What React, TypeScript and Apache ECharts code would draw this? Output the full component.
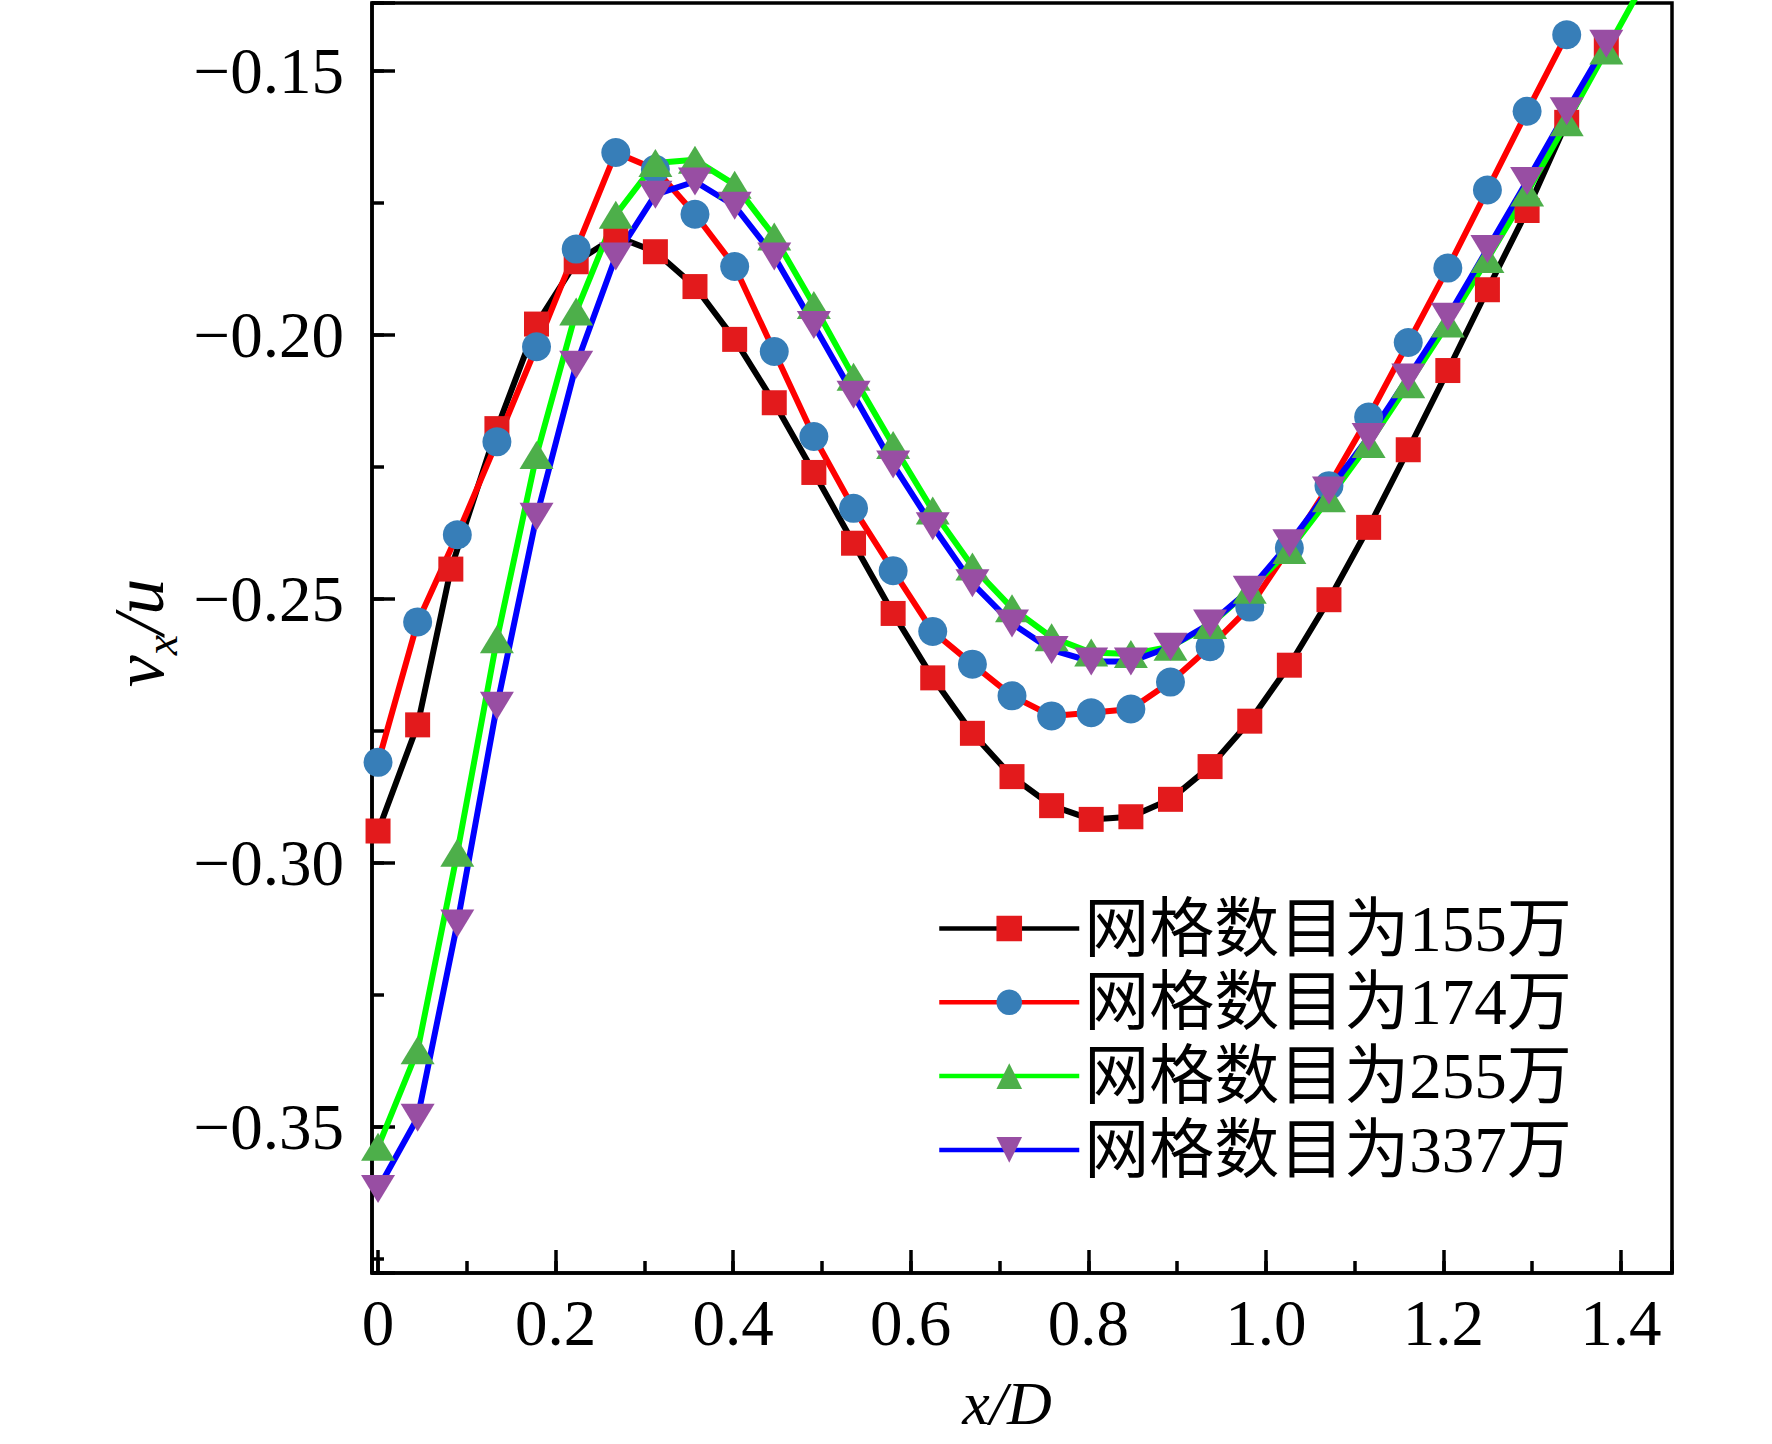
import React, { useEffect, useRef } from "react";
import * as echarts from "echarts";

// ---------------- data ----------------
const xValues = [
  0, 0.0446, 0.0893, 0.1339, 0.1785, 0.2232, 0.2678, 0.3124, 0.357, 0.4017,
  0.4463, 0.4909, 0.5356, 0.5802, 0.6248, 0.6695, 0.7141, 0.7587, 0.8033, 0.848,
  0.8926, 0.9372, 0.9819, 1.0265, 1.0711, 1.1158, 1.1604, 1.205, 1.2496, 1.2943,
  1.3389, 1.3835, 1.4282,
];
const xValues155 = [
  0, 0.0446, 0.082, 0.1339, 0.1785, 0.2232, 0.2678, 0.3124, 0.357, 0.4017,
  0.4463, 0.4909, 0.5356, 0.5802, 0.6248, 0.6695, 0.7141, 0.7587, 0.8033, 0.848,
  0.8926, 0.9372, 0.9819, 1.0265, 1.0711, 1.1158, 1.1604, 1.205, 1.2496, 1.2943,
  1.3389, 1.3835,
];
const grid155 = [
  -0.294, -0.2739, -0.2444, -0.2178, -0.198, -0.1862, -0.1814, -0.1843, -0.1909, -0.2009,
  -0.2129, -0.2261, -0.2395, -0.2528, -0.265, -0.2755, -0.2837, -0.2892, -0.2918, -0.2913,
  -0.288, -0.2818, -0.2732, -0.2626, -0.2502, -0.2365, -0.2218, -0.2068, -0.1915, -0.1765,
  -0.1598, -0.1453,
];
const grid174 = [
  -0.281, -0.2544, -0.2379, -0.2203, -0.2023, -0.1838, -0.1655, -0.1687, -0.1772, -0.1871,
  -0.2032, -0.2193, -0.2329, -0.2447, -0.2562, -0.2624, -0.2684, -0.2722, -0.2716, -0.2709,
  -0.2658, -0.2591, -0.2516, -0.2404, -0.2286, -0.2156, -0.2015, -0.1874, -0.1726, -0.1577,
  -0.1432,
];
const grid255 = [
  -0.3538, -0.3355, -0.2981, -0.2577, -0.2228, -0.1956, -0.1773, -0.1675, -0.1669, -0.1716,
  -0.1814, -0.1944, -0.208, -0.2209, -0.2333, -0.2439, -0.2518, -0.2573, -0.2602, -0.2605,
  -0.2591, -0.255, -0.2483, -0.2408, -0.231, -0.2207, -0.2094, -0.1979, -0.1857, -0.1731,
  -0.1598, -0.1462, -0.1326,
];
const grid337 = [
  -0.3618, -0.3483, -0.3115, -0.2703, -0.2345, -0.2057, -0.1852, -0.1735, -0.171, -0.1756,
  -0.1852, -0.1982, -0.2114, -0.2246, -0.2363, -0.2471, -0.2547, -0.2597, -0.2619, -0.2619,
  -0.2591, -0.2547, -0.2483, -0.2395, -0.2295, -0.2194, -0.2081, -0.1966, -0.1838, -0.1709,
  -0.1577, -0.1449,
];
const seriesNames = ["网格数目为155万", "网格数目为174万", "网格数目为255万", "网格数目为337万"];
const xTickLabels = ["0", "0.2", "0.4", "0.6", "0.8", "1.0", "1.2", "1.4"];
const yTickLabels = ["−0.35", "−0.30", "−0.25", "−0.20", "−0.15"];

const X_MIN = -0.0068;
const X_MAX = 1.4575;
const Y_MIN = -0.3777;
const Y_MAX = -0.1372;
const X_MINOR = 0.1;
const Y_MINOR = 0.025;

const SERIF = "'Liberation Serif', 'Times New Roman', serif";
const LEGEND_FONT = "'Liberation Serif', 'Noto Sans CJK SC', serif";

const pairs = (xs: number[], ys: number[]) => ys.map((y, i) => [xs[i], y]);

export default function App() {
  const ref = useRef<HTMLDivElement>(null);
  useEffect(() => {
    document.body.style.margin = "0";
    if (!ref.current) return;
    const chart = echarts.init(ref.current, undefined, { renderer: "svg" });

    const isMultiple = (v: number, step: number) =>
      Math.abs(v / step - Math.round(v / step)) < 1e-6;

    const lineW = 6;
    const mkSeries = (
      name: string,
      data: number[][],
      lineColor: string,
      symColor: string,
      symbol: string,
      size: number | number[],
      rotate = 0
    ) => ({
      name,
      type: "line",
      data,
      xAxisIndex: 0,
      yAxisIndex: 0,
      symbol,
      symbolSize: size,
      symbolRotate: rotate,
      showAllSymbol: true,
      lineStyle: { color: lineColor, width: lineW },
      itemStyle: { color: symColor },
      clip: true,
    });

    chart.setOption({
      animation: false,
      backgroundColor: "#fff",
      grid: {
        left: 372,
        top: 3,
        right: 100,
        bottom: 171,
        show: true,
        borderColor: "#000",
        borderWidth: 3.5,
        backgroundColor: "transparent",
      },
      xAxis: [
        {
          type: "value",
          min: X_MIN,
          max: X_MAX,
          splitNumber: 7,
          position: "bottom",
          axisLine: { show: true, onZero: false, lineStyle: { color: "#000", width: 3.5 } },
          axisTick: { show: true, inside: true, length: 23, lineStyle: { color: "#000", width: 3.5 } },
          splitLine: { show: false },
          axisLabel: {
            show: true,
            margin: 17,
            color: "#000",
            fontFamily: SERIF,
            fontSize: 65,
            lineHeight: 66,
            formatter: (v: number) => {
              if (!isMultiple(v, 0.2)) return "";
              const idx = Math.round(v / 0.2);
              return xTickLabels[idx] ?? "";
            },
          },
        },
        {
          type: "value",
          min: X_MIN / X_MINOR,
          max: X_MAX / X_MINOR,
          splitNumber: 15,
          position: "bottom",
          axisLine: { show: false, onZero: false },
          axisTick: { show: true, inside: true, length: 12, lineStyle: { color: "#000", width: 3.5 } },
          splitLine: { show: false },
          axisLabel: { show: false },
        },
      ],
      yAxis: [
        {
          type: "value",
          min: Y_MIN,
          max: Y_MAX,
          splitNumber: 5,
          position: "left",
          axisLine: { show: true, onZero: false, lineStyle: { color: "#000", width: 3.5 } },
          axisTick: { show: true, inside: true, length: 23, lineStyle: { color: "#000", width: 3.5 } },
          splitLine: { show: false },
          axisLabel: {
            show: true,
            margin: 28,
            color: "#000",
            fontFamily: SERIF,
            fontSize: 65,
            formatter: (v: number) => {
              if (!isMultiple(v, 0.05)) return "";
              const idx = Math.round((v + 0.35) / 0.05);
              return yTickLabels[idx] ?? "";
            },
          },
        },
        {
          type: "value",
          min: Y_MIN / Y_MINOR,
          max: Y_MAX / Y_MINOR,
          splitNumber: 10,
          position: "left",
          axisLine: { show: false, onZero: false },
          axisTick: { show: true, inside: true, length: 12, lineStyle: { color: "#000", width: 3.5 } },
          splitLine: { show: false },
          axisLabel: { show: false },
        },
      ],
      legend: {
        orient: "vertical",
        left: 932,
        top: 891,
        itemWidth: 140,
        itemHeight: 32,
        itemGap: 8.8,
        selectedMode: false,
        lineStyle: { width: 4.5 },
        textStyle: { fontFamily: LEGEND_FONT, fontSize: 65, lineHeight: 60, color: "#000" },
        data: seriesNames,
      },
      graphic: [
        {
          type: "text",
          x: 139,
          y: 633,
          rotation: Math.PI / 2,
          style: {
            text: "{v|v}{s|x}{v|/u}",
            align: "center",
            verticalAlign: "middle",
            fill: "#000",
            rich: {
              v: { fontFamily: SERIF, fontStyle: "italic", fontSize: 72, lineHeight: 90, fill: "#000" },
              s: {
                fontFamily: SERIF,
                fontStyle: "italic",
                fontSize: 46,
                lineHeight: 44,
                verticalAlign: "bottom",
                fill: "#000",
              },
            },
          },
        },
        {
          type: "text",
          x: 1007,
          y: 1403,
          style: {
            text: "x/D",
            fontFamily: SERIF,
            fontStyle: "italic",
            fontSize: 62,
            align: "center",
            verticalAlign: "middle",
            fill: "#000",
          },
        },
      ],
      series: [
        mkSeries(seriesNames[0], pairs(xValues155, grid155), "#000000", "#e31a1c", "rect", 25),
        mkSeries(seriesNames[1], pairs(xValues, grid174), "#ff0000", "#377eb8", "circle", 29),
        mkSeries(seriesNames[2], pairs(xValues, grid255), "#00ff00", "#4daf4a", "triangle", [34, 28]),
        mkSeries(seriesNames[3], pairs(xValues, grid337), "#0000ff", "#984ea3", "triangle", [34, 28], 180),
      ],
    });
    return () => chart.dispose();
  }, []);
  return <div ref={ref} style={{ width: 1772, height: 1444 }} />;
}
